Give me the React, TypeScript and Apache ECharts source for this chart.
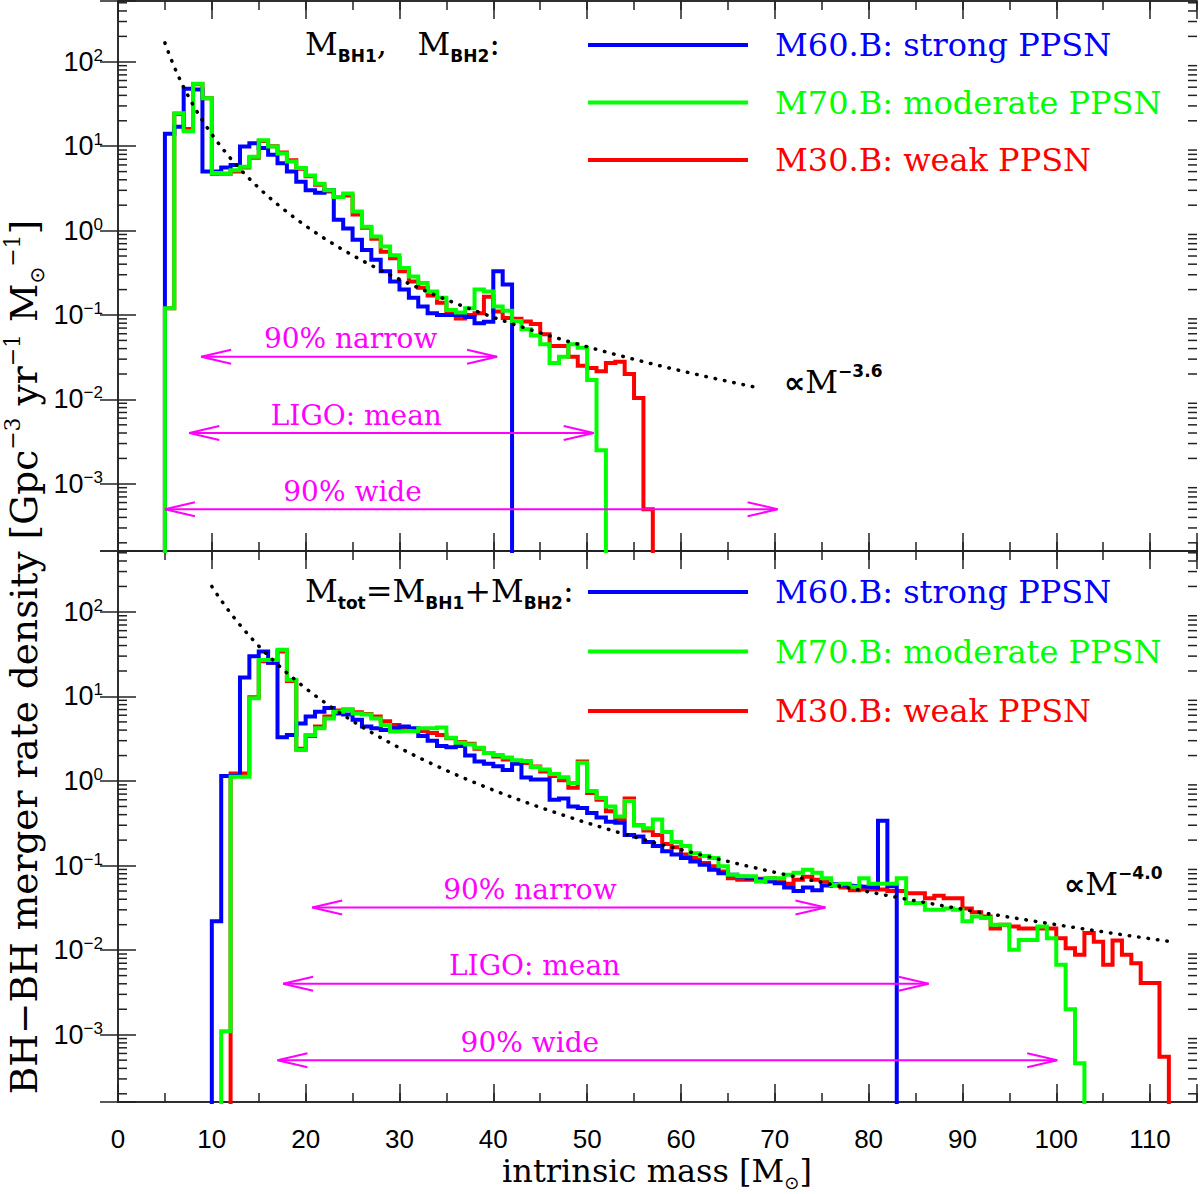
import React, { useEffect, useRef } from "react";
import * as echarts from "echarts";

// ---------- axis ranges ----------
const X_MIN = 0;
const X_MAX = 115;
const Y_MIN = 1.6e-4;
const Y_MAX = 525;
const FLOOR = 1e-7; // "empty" level, below the axis minimum

// ---------- series ----------
const seriesNames = ["M60.B: strong PPSN", "M70.B: moderate PPSN", "M30.B: weak PPSN"];
const seriesColors = ["#0000ff", "#00ff00", "#ff0000"];

// top panel: M_BH1, M_BH2 (bins of 1 Msun, value of bin [m, m+1))
const topBlueStart = 5;
const topBlue = [14, 17, 48, 47, 5.0, 5.0, 5.6, 6.0, 9.9, 10.8, 9.5, 7.9, 6.3, 5.0, 3.8, 3.0, 2.8, 3.0, 1.34, 1.06,
  0.78, 0.59, 0.45, 0.33, 0.25, 0.2, 0.16, 0.126, 0.105, 0.1, 0.1, 0.1, 0.095, 0.08, 0.083, 0.33, 0.23];
const topGreenStart = 5;
const topGreen = [0.12, 24.5, 15, 55, 37, 4.8, 4.7, 5.2, 5.7, 7.5, 11.8, 9.9, 8.2, 6.6, 5.5, 4.5, 3.6, 3.0, 2.5, 2.75,
  1.68, 1.11, 0.85, 0.65, 0.51, 0.36, 0.285, 0.24, 0.19, 0.16, 0.115, 0.107, 0.12, 0.2, 0.19, 0.126, 0.112, 0.085,
  0.068, 0.057, 0.045, 0.027, 0.032, 0.045, 0.041, 0.017, 0.0025];
const topRedStart = 5;
const topRed = [0.12, 24, 16, 54, 37, 4.7, 4.7, 5.0, 5.6, 7.3, 11.5, 10, 8.4, 6.8, 5.4, 4.4, 3.5, 2.9, 2.5, 2.6,
  1.55, 1.08, 0.8, 0.56, 0.47, 0.33, 0.25, 0.21, 0.17, 0.14, 0.11, 0.091, 0.1, 0.105, 0.165, 0.11, 0.092, 0.09,
  0.084, 0.078, 0.059, 0.043, 0.043, 0.032, 0.025, 0.0236, 0.0216, 0.027, 0.028, 0.02, 0.0104, 0.0005];

// bottom panel: M_tot
const botBlueStart = 10;
const botBlue = [0.022, 1.15, 1.15, 16.8, 29.8, 34, 25, 3.3, 3.5, 4.8,
  5.8, 6.6, 7.3, 6.3, 6.1, 5.3, 4.4, 4.2, 4.0, 4.2,
  4.4, 4.2, 3.4, 3.0, 2.6, 2.5, 2.6, 2.0, 1.7, 1.6,
  1.5, 1.35, 1.6, 1.1, 1.04, 1.04, 0.6, 0.62, 0.5, 0.48,
  0.42, 0.37, 0.33, 0.32, 0.23, 0.22, 0.19, 0.17, 0.148, 0.135,
  0.123, 0.112, 0.102, 0.089, 0.081, 0.078, 0.074, 0.071, 0.068, 0.065,
  0.062, 0.055, 0.05, 0.055, 0.051, 0.058, 0.06, 0.058, 0.057, 0.056,
  0.055, 0.34, 0.057];
const botGreenStart = 11;
const botGreen = [0.0011, 1.12, 1.12, 9.5, 27, 27, 35.7, 15.8, 2.33, 3.5,
  4.2, 5.5, 6.6, 6.9, 6.3, 6.1, 5.5, 4.6, 3.85, 3.9,
  3.85, 4.2, 4.2, 4.3, 3.25, 2.83, 2.7, 2.47, 2.15, 2.03,
  1.9, 1.76, 1.72, 1.46, 1.37, 1.21, 1.11, 0.95, 1.64, 0.76,
  0.63, 0.5, 0.38, 0.58, 0.3, 0.277, 0.35, 0.25, 0.19, 0.17,
  0.14, 0.13, 0.123, 0.098, 0.078, 0.075, 0.075, 0.065, 0.071, 0.071,
  0.078, 0.082, 0.089, 0.082, 0.071, 0.059, 0.061, 0.056, 0.071, 0.061,
  0.061, 0.061, 0.071, 0.036, 0.036, 0.03, 0.03, 0.031, 0.03, 0.022,
  0.025, 0.024, 0.02, 0.02, 0.0101, 0.0132, 0.0132, 0.019, 0.0138, 0.0067,
  0.002, 0.00046];
const botRedStart = 12;
const botRed = [1.23, 1.23, 9.8, 26, 25, 34, 15.2, 2.4, 3.4, 4.4,
  5.8, 6.8, 7.0, 6.5, 6.2, 5.8, 5.1, 4.6, 4.2, 4.1,
  3.9, 3.7, 3.5, 3.2, 2.9, 2.75, 2.4, 2.15, 1.95, 1.8,
  1.73, 1.63, 1.48, 1.3, 1.15, 1.02, 0.83, 1.7, 0.72, 0.6,
  0.44, 0.35, 0.62, 0.3, 0.26, 0.23, 0.18, 0.165, 0.135, 0.123,
  0.107, 0.098, 0.085, 0.071, 0.068, 0.068, 0.07, 0.071, 0.065, 0.061,
  0.068, 0.074, 0.068, 0.065, 0.058, 0.055, 0.051, 0.052, 0.052, 0.052,
  0.05, 0.05, 0.047, 0.047, 0.041, 0.044, 0.041, 0.041, 0.031, 0.028,
  0.025, 0.018, 0.02, 0.019, 0.018, 0.018, 0.018, 0.018, 0.0138, 0.0105,
  0.0088, 0.016, 0.0126, 0.0067, 0.013, 0.0088, 0.007, 0.0041, 0.0041, 0.00055];

// power-law guides (normalisation)
const topGuideExponent = -3.6;
const topGuideNorm = 5.5e4;
const topGuideRange = [5, 68.5];
const botGuideExponent = -4.0;
const botGuideNorm = 2.0e6;
const botGuideRange = [10, 112];

// mass ranges (arrows)
const arrowLabels = ["90% narrow", "LIGO: mean", "90% wide"];
const arrowLevels = [0.032, 0.004, 0.0005];
const topArrowFrom = [8.86, 7.6, 5.0];
const topArrowTo = [40.4, 50.7, 70.3];
const topLabelAt = [24.8, 25.4, 25.0];
const botArrowFrom = [20.7, 17.6, 17.0];
const botArrowTo = [75.4, 86.4, 100.1];
const botLabelAt = [43.9, 44.4, 43.9];

// log minor ticks
const minorDecades = [-4, -3, -2, -1, 0, 1, 2];
const minorMultipliers = [2, 3, 4, 5, 6, 7, 8, 9];

// ---------- styles ----------
const SERIF = "'DejaVu Serif', serif";
const SANS = "'Liberation Sans', Arial, sans-serif";
const SANS_B = "'DejaVu Sans', sans-serif";
const MAGENTA = "#ff00ff";
const FRAME = "#222";
const frameLine = { color: FRAME, width: 1.5 };

function stepPoints(start: number, vals: number[]) {
  const pts: number[][] = [[start, FLOOR]];
  vals.forEach((v, i) => pts.push([start + i, v]));
  pts.push([start + vals.length, FLOOR]);
  return pts;
}

function guidePoints(norm: number, exponent: number, range: number[]) {
  const pts: number[][] = [];
  for (let m = range[0]; m <= range[1] + 1e-9; m += 0.5) pts.push([m, norm * Math.pow(m, exponent)]);
  return pts;
}

const minorYTicks: number[] = [];
minorDecades.forEach((d) =>
  minorMultipliers.forEach((k) => {
    const v = k * Math.pow(10, d);
    if (v > Y_MIN && v < Y_MAX) minorYTicks.push(v);
  })
);

function xAxesFor(grid: number, labels: boolean) {
  const base = {
    type: "value",
    gridIndex: grid,
    min: X_MIN,
    max: X_MAX,
    splitLine: { show: false },
    axisLine: { show: true, onZero: false, lineStyle: frameLine },
  };
  const label = labels
    ? {
        show: true,
        margin: 24,
        fontSize: 26,
        fontFamily: SANS,
        color: "#000",
        formatter: (v: number) => (v % 10 === 0 ? String(v) : ""),
      }
    : { show: false };
  return [
    { ...base, position: "bottom", interval: 10, axisTick: { show: true, inside: true, length: 18, lineStyle: frameLine }, axisLabel: label },
    { ...base, position: "bottom", interval: 5, axisTick: { show: true, inside: true, length: 9, lineStyle: frameLine }, axisLabel: { show: false } },
    { ...base, position: "top", interval: 10, axisTick: { show: true, inside: true, length: 18, lineStyle: frameLine }, axisLabel: { show: false } },
    { ...base, position: "top", interval: 5, axisTick: { show: true, inside: true, length: 9, lineStyle: frameLine }, axisLabel: { show: false } },
  ];
}

function yAxesFor(grid: number) {
  const base = {
    type: "log",
    logBase: 10,
    gridIndex: grid,
    min: Y_MIN,
    max: Y_MAX,
    splitLine: { show: false },
    minorTick: { show: false },
    axisLine: { show: true, lineStyle: frameLine },
    axisTick: { show: true, inside: true, length: 18, lineStyle: frameLine },
  };
  return [
    {
      ...base,
      position: "left",
      axisLabel: {
        show: true,
        margin: 15,
        formatter: (v: number) => {
          const e = Math.log10(v);
          const r = Math.round(e);
          if (Math.abs(e - r) > 1e-6) return "";
          return `{b|10}{e|${r < 0 ? "\u2212" + -r : r}}`;
        },
        rich: {
          b: { fontFamily: SANS, fontSize: 27, lineHeight: 30, color: "#000" },
          e: { fontFamily: SANS, fontSize: 17, lineHeight: 19, verticalAlign: "top", color: "#000" },
        },
      },
    },
    { ...base, position: "right", axisLabel: { show: false } },
  ];
}

function histSeries(name: string, color: string, data: number[][], xi: number, yi: number, z: number) {
  return {
    type: "line",
    name,
    xAxisIndex: xi,
    yAxisIndex: yi,
    data,
    step: "end",
    symbol: "none",
    showSymbol: false,
    color,
    itemStyle: { color },
    lineStyle: { color, width: 4, join: "miter", cap: "butt" },
    silent: true,
    clip: true,
    z,
  };
}

function guideSeries(data: number[][], xi: number, yi: number) {
  return {
    type: "line",
    name: "guide",
    xAxisIndex: xi,
    yAxisIndex: yi,
    data,
    symbol: "none",
    showSymbol: false,
    lineStyle: { color: "#000", width: 3.5, type: [0.5, 9], cap: "round" },
    silent: true,
    clip: true,
    z: 6,
  };
}

function minorTickSeries(xi: number, yi: number) {
  return {
    type: "custom",
    xAxisIndex: xi,
    yAxisIndex: yi,
    silent: true,
    z: 7,
    data: minorYTicks.map((v) => [X_MIN, v]),
    renderItem: (_p: any, api: any) => {
      const v = api.value(1);
      const l = api.coord([X_MIN, v]);
      const r = api.coord([X_MAX, v]);
      const st = { stroke: FRAME, lineWidth: 1.5, fill: "none" };
      return {
        type: "group",
        children: [
          { type: "line", shape: { x1: l[0], y1: l[1], x2: l[0] + 9, y2: l[1] }, style: st },
          { type: "line", shape: { x1: r[0] - 9, y1: r[1], x2: r[0], y2: r[1] }, style: st },
        ],
      };
    },
  };
}

function arrowSeries(from: number[], to: number[], labelAt: number[], xi: number, yi: number) {
  return {
    type: "custom",
    xAxisIndex: xi,
    yAxisIndex: yi,
    silent: true,
    z: 8,
    data: arrowLabels.map((_, i) => [from[i], to[i], arrowLevels[i], labelAt[i]]),
    renderItem: (params: any, api: any) => {
      const lvl = api.value(2);
      const a = api.coord([api.value(0), lvl]);
      const b = api.coord([api.value(1), lvl]);
      const c = api.coord([api.value(3), lvl]);
      const st = { stroke: MAGENTA, lineWidth: 2, fill: "none" };
      return {
        type: "group",
        children: [
          { type: "line", shape: { x1: a[0], y1: a[1], x2: b[0], y2: b[1] }, style: st },
          { type: "polyline", shape: { points: [[a[0] + 30, a[1] - 7], [a[0], a[1]], [a[0] + 30, a[1] + 7]] }, style: st },
          { type: "polyline", shape: { points: [[b[0] - 30, b[1] - 7], [b[0], b[1]], [b[0] - 30, b[1] + 7]] }, style: st },
          {
            type: "text",
            x: c[0],
            y: c[1] - 18,
            style: {
              text: arrowLabels[params.dataIndex],
              fill: MAGENTA,
              fontSize: 28,
              fontFamily: SERIF,
              align: "center",
              verticalAlign: "middle",
              textAlign: "center",
              textVerticalAlign: "middle",
            },
          },
        ],
      };
    },
  };
}

function legendFor(top: number, gap: number) {
  return {
    show: true,
    orient: "vertical",
    left: 583,
    top,
    itemWidth: 160,
    itemHeight: 4,
    itemGap: gap,
    icon: "rect",
    selectedMode: false,
    textStyle: { fontFamily: SERIF, fontSize: 32, lineHeight: 36, padding: [0, 0, 0, 22] },
    data: seriesNames.map((n, i) => ({ name: n, textStyle: { color: seriesColors[i] } })),
  };
}

const labelRich = {
  t: { fontFamily: SERIF, fontSize: 37.5, lineHeight: 46, fill: "#000" },
  p: { fontFamily: SERIF, fontSize: 22, lineHeight: 22, verticalAlign: "top", fill: "#000" },
  o: { fontFamily: SANS_B, fontSize: 20, lineHeight: 20, verticalAlign: "bottom", fill: "#000" },
  x: { fontFamily: SERIF, fontSize: 32, lineHeight: 40, fill: "#000" },
  y: { fontFamily: SANS_B, fontSize: 18, lineHeight: 18, verticalAlign: "bottom", fill: "#000" },
  m: { fontFamily: SERIF, fontSize: 32, lineHeight: 40, fill: "#000" },
  s: { fontFamily: SANS_B, fontWeight: "bold", fontSize: 17, lineHeight: 17, verticalAlign: "bottom", fill: "#000" },
  q: { fontFamily: SANS_B, fontWeight: "bold", fontSize: 30, lineHeight: 40, fill: "#000" },
  e: { fontFamily: SANS_B, fontWeight: "bold", fontSize: 17, lineHeight: 17, verticalAlign: "top", fill: "#000" },
};

function richText(x: number, y: number, text: string, align: string, rotation = 0) {
  return {
    type: "text",
    x,
    y,
    rotation,
    silent: true,
    z: 20,
    style: {
      text,
      rich: labelRich,
      align,
      verticalAlign: "middle",
      textAlign: align,
      textVerticalAlign: "middle",
    },
  };
}

function buildOption() {
  const topX = 0;
  const botX = 4;
  const topY = 0;
  const botY = 2;
  return {
    animation: false,
    backgroundColor: "#fff",
    grid: [
      { left: 118, right: 3, top: 1, height: 550 },
      { left: 118, right: 3, top: 551, height: 551 },
    ],
    xAxis: [...xAxesFor(0, false), ...xAxesFor(1, true)],
    yAxis: [...yAxesFor(0), ...yAxesFor(1)],
    legend: [legendFor(22, 21.5), legendFor(569, 23.5)],
    series: [
      histSeries(seriesNames[2], seriesColors[2], stepPoints(topRedStart, topRed), topX, topY, 2),
      histSeries(seriesNames[0], seriesColors[0], stepPoints(topBlueStart, topBlue), topX, topY, 3),
      histSeries(seriesNames[1], seriesColors[1], stepPoints(topGreenStart, topGreen), topX, topY, 4),
      histSeries(seriesNames[2], seriesColors[2], stepPoints(botRedStart, botRed), botX, botY, 2),
      histSeries(seriesNames[0], seriesColors[0], stepPoints(botBlueStart, botBlue), botX, botY, 3),
      histSeries(seriesNames[1], seriesColors[1], stepPoints(botGreenStart, botGreen), botX, botY, 4),
      guideSeries(guidePoints(topGuideNorm, topGuideExponent, topGuideRange), topX, topY),
      guideSeries(guidePoints(botGuideNorm, botGuideExponent, botGuideRange), botX, botY),
      minorTickSeries(topX, topY),
      minorTickSeries(botX, botY),
      arrowSeries(topArrowFrom, topArrowTo, topLabelAt, topX, topY),
      arrowSeries(botArrowFrom, botArrowTo, botLabelAt, botX, botY),
    ],
    graphic: [
      richText(24, 657, "{t|BH\u2212BH merger rate density [Gpc}{p|\u22123}{t| yr}{p|\u22121}{t| M}{o|\u2299}{p|\u22121}{t|]}", "center", Math.PI / 2),
      richText(657, 1171, "{x|intrinsic mass [M}{y|\u2299}{x|]}", "center"),
      richText(305, 44, "{m|M}{s|BH1}{m|,   M}{s|BH2}{m|:}", "left"),
      richText(305, 591, "{m|M}{s|tot}{m|=M}{s|BH1}{m|+M}{s|BH2}{m|:}", "left"),
      richText(784, 382, "{q|\u221d}{m|M}{e|\u22123.6}", "left"),
      richText(1064, 884, "{q|\u221d}{m|M}{e|\u22124.0}", "left"),
    ],
  };
}

export default function App() {
  const ref = useRef<HTMLDivElement>(null);
  useEffect(() => {
    if (!ref.current) return;
    const chart = echarts.init(ref.current, null, { renderer: "svg" });
    chart.setOption(buildOption() as any);
    return () => chart.dispose();
  }, []);
  return (
    <div
      ref={ref}
      style={{ position: "absolute", left: 0, top: 0, width: 1200, height: 1194, background: "#fff" }}
    />
  );
}
